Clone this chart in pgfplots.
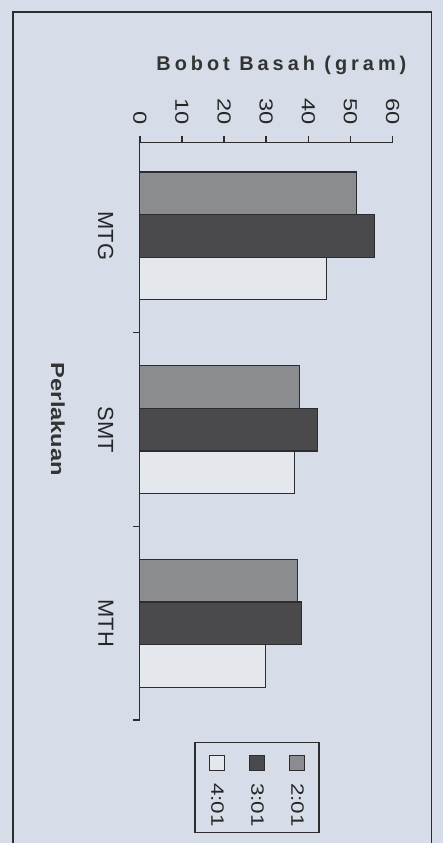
\documentclass[border=0pt]{standalone}
\usepackage{pgfplots}
\pgfplotsset{compat=1.18}
\usepackage{pgfplotstable}
\usepackage{fontspec}
\setmainfont{Liberation Sans}
\newfontfamily\stsans[FakeStretch=1.25]{Liberation Sans}
\newfontfamily\titlefont[LetterSpace=20]{Liberation Sans}
\definecolor{paper}{RGB}{214,221,232}
\definecolor{edge}{RGB}{45,45,48}
\definecolor{cA}{RGB}{138,140,144}
\definecolor{cB}{RGB}{74,74,76}
\definecolor{cC}{RGB}{228,231,236}
\pgfplotstableread{
cat v201 v301 v401
0 51.4 55.7 44.3
1 37.9 42.2 36.7
2 37.4 38.4 29.9
}\datatable
\begin{document}
\begin{tikzpicture}[rotate=-90,transform shape]
\fill[paper] (-143bp,-140bp) rectangle (701bp,303bp);
\draw[edge, line width=1.8bp] (701bp,-127bp) -- (-131bp,-127bp) -- (-131bp,292bp) -- (701bp,292bp);
\begin{axis}[
  at={(0,0)}, anchor=south west,
  scale only axis, width=578bp, height=253bp,
  ybar, bar width=0.22,
  xmin=-0.48, xmax=2.5, ymin=0, ymax=60,
  clip=false,
  axis lines*=left,
  axis line style={edge, line width=1.3bp, -},
  xtick={-0.5,0.5,1.5,2.5}, xticklabels={},
  extra x ticks={0,1,2}, extra x tick labels={MTG,SMT,MTH},
  extra x tick style={major tick length=0pt},
  ytick={0,10,...,60},
  tick align=outside, major tick length=7bp,
  tick style={edge, line width=1.5bp},
  /pgf/number format/assume math mode=true,
  yticklabel style={font=\stsans\fontsize{19}{19}\selectfont, text=black!85, xshift=-8bp},
  xticklabel style={font=\fontsize{22}{22}\selectfont, text=black!85, yshift=-23bp},
  ylabel={Bobot Basah (gram)},
  ylabel style={at={(rel axis cs:-0.135,0.56)}, anchor=center, font=\titlefont\bfseries\fontsize{20}{20}\selectfont, text=black!80},
  xlabel={Perlakuan},
  xlabel style={at={(rel axis cs:0.479,-0.324)}, anchor=center, font=\stsans\bfseries\fontsize{19}{19}\selectfont, text=black!80},
  legend style={at={(rel axis cs:1.038,0.711)}, anchor=north west, draw=edge, line width=1.3bp, fill=paper,
    font=\stsans\fontsize{18}{18}\selectfont, text=black!85, inner xsep=4bp, inner ysep=13bp,
    row sep=22bp, cells={anchor=west}},
  legend cell align=left,
]
\addplot[fill=cA, draw=edge, line width=1.3bp, bar shift=-0.22,
  legend image code/.code={\draw[fill=cA, draw=edge, line width=1.3bp] (8bp,-7.5bp) rectangle (23bp,7.5bp); \path (0bp,0bp) (33bp,0bp);}]
  table[x=cat, y=v201] {\datatable};
\addplot[fill=cB, draw=edge, line width=1.3bp, bar shift=0,
  legend image code/.code={\draw[fill=cB, draw=edge, line width=1.3bp] (8bp,-7.5bp) rectangle (23bp,7.5bp); \path (0bp,0bp) (33bp,0bp);}]
  table[x=cat, y=v301] {\datatable};
\addplot[fill=cC, draw=edge, line width=1.3bp, bar shift=0.22,
  legend image code/.code={\draw[fill=cC, draw=edge, line width=1.3bp] (8bp,-7.5bp) rectangle (23bp,7.5bp); \path (0bp,0bp) (33bp,0bp);}]
  table[x=cat, y=v401] {\datatable};
\legend{2:01,3:01,4:01}
\end{axis}
\end{tikzpicture}
\end{document}
